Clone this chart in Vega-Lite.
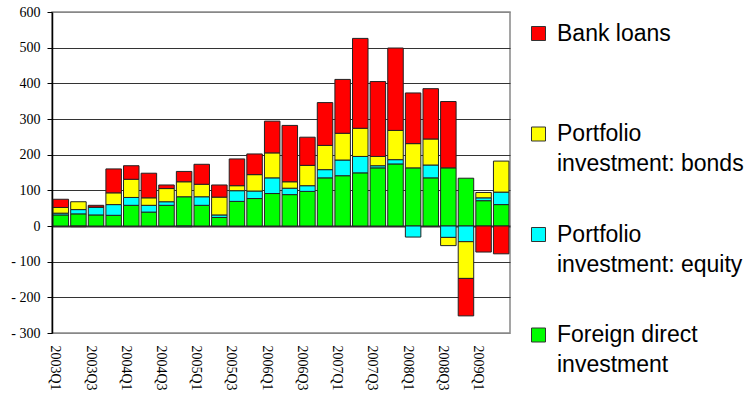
{
  "$schema": "https://vega.github.io/schema/vega-lite/v6.json",
  "width": 458,
  "height": 321,
  "autosize": {"type": "none"},
  "padding": {"left": 52, "top": 12, "right": 236, "bottom": 65},
  "background": "white",
  "config": {
    "view": {"stroke": "#888888", "strokeWidth": 1.5},
    "style": {"guide-label": {"lineHeight": 30}}
  },
  "data": {
    "values": [
      {"q": "2003Q1", "s": "Foreign direct investment", "v": 31}, {"q": "2003Q1", "s": "Portfolio investment: equity", "v": 5}, {"q": "2003Q1", "s": "Portfolio investment: bonds", "v": 16}, {"q": "2003Q1", "s": "Bank loans", "v": 23},
      {"q": "2003Q2", "s": "Foreign direct investment", "v": 34}, {"q": "2003Q2", "s": "Portfolio investment: equity", "v": 12}, {"q": "2003Q2", "s": "Portfolio investment: bonds", "v": 22}, {"q": "2003Q2", "s": "Bank loans", "v": -2},
      {"q": "2003Q3", "s": "Foreign direct investment", "v": 31}, {"q": "2003Q3", "s": "Portfolio investment: equity", "v": 22}, {"q": "2003Q3", "s": "Portfolio investment: bonds", "v": 0}, {"q": "2003Q3", "s": "Bank loans", "v": 5},
      {"q": "2003Q4", "s": "Foreign direct investment", "v": 30}, {"q": "2003Q4", "s": "Portfolio investment: equity", "v": 30}, {"q": "2003Q4", "s": "Portfolio investment: bonds", "v": 33}, {"q": "2003Q4", "s": "Bank loans", "v": 67},
      {"q": "2004Q1", "s": "Foreign direct investment", "v": 58}, {"q": "2004Q1", "s": "Portfolio investment: equity", "v": 22}, {"q": "2004Q1", "s": "Portfolio investment: bonds", "v": 51}, {"q": "2004Q1", "s": "Bank loans", "v": 38},
      {"q": "2004Q2", "s": "Foreign direct investment", "v": 39}, {"q": "2004Q2", "s": "Portfolio investment: equity", "v": 19}, {"q": "2004Q2", "s": "Portfolio investment: bonds", "v": 21}, {"q": "2004Q2", "s": "Bank loans", "v": 69},
      {"q": "2004Q3", "s": "Foreign direct investment", "v": 58}, {"q": "2004Q3", "s": "Portfolio investment: equity", "v": 10}, {"q": "2004Q3", "s": "Portfolio investment: bonds", "v": 37}, {"q": "2004Q3", "s": "Bank loans", "v": 10},
      {"q": "2004Q4", "s": "Foreign direct investment", "v": 82}, {"q": "2004Q4", "s": "Portfolio investment: equity", "v": -2}, {"q": "2004Q4", "s": "Portfolio investment: bonds", "v": 42}, {"q": "2004Q4", "s": "Bank loans", "v": 29},
      {"q": "2005Q1", "s": "Foreign direct investment", "v": 58}, {"q": "2005Q1", "s": "Portfolio investment: equity", "v": 24}, {"q": "2005Q1", "s": "Portfolio investment: bonds", "v": 35}, {"q": "2005Q1", "s": "Bank loans", "v": 56},
      {"q": "2005Q2", "s": "Foreign direct investment", "v": 24}, {"q": "2005Q2", "s": "Portfolio investment: equity", "v": 7}, {"q": "2005Q2", "s": "Portfolio investment: bonds", "v": 50}, {"q": "2005Q2", "s": "Bank loans", "v": 34},
      {"q": "2005Q3", "s": "Foreign direct investment", "v": 69}, {"q": "2005Q3", "s": "Portfolio investment: equity", "v": 30}, {"q": "2005Q3", "s": "Portfolio investment: bonds", "v": 14}, {"q": "2005Q3", "s": "Bank loans", "v": 75},
      {"q": "2005Q4", "s": "Foreign direct investment", "v": 77}, {"q": "2005Q4", "s": "Portfolio investment: equity", "v": 21}, {"q": "2005Q4", "s": "Portfolio investment: bonds", "v": 46}, {"q": "2005Q4", "s": "Bank loans", "v": 58},
      {"q": "2006Q1", "s": "Foreign direct investment", "v": 91}, {"q": "2006Q1", "s": "Portfolio investment: equity", "v": 44}, {"q": "2006Q1", "s": "Portfolio investment: bonds", "v": 70}, {"q": "2006Q1", "s": "Bank loans", "v": 89},
      {"q": "2006Q2", "s": "Foreign direct investment", "v": 88}, {"q": "2006Q2", "s": "Portfolio investment: equity", "v": 18}, {"q": "2006Q2", "s": "Portfolio investment: bonds", "v": 18}, {"q": "2006Q2", "s": "Bank loans", "v": 158},
      {"q": "2006Q3", "s": "Foreign direct investment", "v": 97}, {"q": "2006Q3", "s": "Portfolio investment: equity", "v": 16}, {"q": "2006Q3", "s": "Portfolio investment: bonds", "v": 57}, {"q": "2006Q3", "s": "Bank loans", "v": 79},
      {"q": "2006Q4", "s": "Foreign direct investment", "v": 135}, {"q": "2006Q4", "s": "Portfolio investment: equity", "v": 23}, {"q": "2006Q4", "s": "Portfolio investment: bonds", "v": 68}, {"q": "2006Q4", "s": "Bank loans", "v": 120},
      {"q": "2007Q1", "s": "Foreign direct investment", "v": 141}, {"q": "2007Q1", "s": "Portfolio investment: equity", "v": 44}, {"q": "2007Q1", "s": "Portfolio investment: bonds", "v": 75}, {"q": "2007Q1", "s": "Bank loans", "v": 151},
      {"q": "2007Q2", "s": "Foreign direct investment", "v": 149}, {"q": "2007Q2", "s": "Portfolio investment: equity", "v": 46}, {"q": "2007Q2", "s": "Portfolio investment: bonds", "v": 79}, {"q": "2007Q2", "s": "Bank loans", "v": 252},
      {"q": "2007Q3", "s": "Foreign direct investment", "v": 163}, {"q": "2007Q3", "s": "Portfolio investment: equity", "v": 6}, {"q": "2007Q3", "s": "Portfolio investment: bonds", "v": 26}, {"q": "2007Q3", "s": "Bank loans", "v": 210},
      {"q": "2007Q4", "s": "Foreign direct investment", "v": 174}, {"q": "2007Q4", "s": "Portfolio investment: equity", "v": 12}, {"q": "2007Q4", "s": "Portfolio investment: bonds", "v": 82}, {"q": "2007Q4", "s": "Bank loans", "v": 231},
      {"q": "2008Q1", "s": "Foreign direct investment", "v": 163}, {"q": "2008Q1", "s": "Portfolio investment: equity", "v": -31}, {"q": "2008Q1", "s": "Portfolio investment: bonds", "v": 68}, {"q": "2008Q1", "s": "Bank loans", "v": 142},
      {"q": "2008Q2", "s": "Foreign direct investment", "v": 135}, {"q": "2008Q2", "s": "Portfolio investment: equity", "v": 36}, {"q": "2008Q2", "s": "Portfolio investment: bonds", "v": 73}, {"q": "2008Q2", "s": "Bank loans", "v": 141},
      {"q": "2008Q3", "s": "Foreign direct investment", "v": 163}, {"q": "2008Q3", "s": "Portfolio investment: equity", "v": -32}, {"q": "2008Q3", "s": "Portfolio investment: bonds", "v": -23}, {"q": "2008Q3", "s": "Bank loans", "v": 186},
      {"q": "2008Q4", "s": "Foreign direct investment", "v": 134}, {"q": "2008Q4", "s": "Portfolio investment: equity", "v": -44}, {"q": "2008Q4", "s": "Portfolio investment: bonds", "v": -103}, {"q": "2008Q4", "s": "Bank loans", "v": -105},
      {"q": "2009Q1", "s": "Foreign direct investment", "v": 71}, {"q": "2009Q1", "s": "Portfolio investment: equity", "v": 8}, {"q": "2009Q1", "s": "Portfolio investment: bonds", "v": 15}, {"q": "2009Q1", "s": "Bank loans", "v": -73},
      {"q": "2009Q2", "s": "Foreign direct investment", "v": 60}, {"q": "2009Q2", "s": "Portfolio investment: equity", "v": 35}, {"q": "2009Q2", "s": "Portfolio investment: bonds", "v": 87}, {"q": "2009Q2", "s": "Bank loans", "v": -78}
    ]
  },
  "transform": [
    {"calculate": "indexof(['Foreign direct investment','Portfolio investment: equity','Portfolio investment: bonds','Bank loans'], datum.s)", "as": "ord"}
  ],
  "mark": {"type": "bar", "stroke": "#222222", "strokeWidth": 1},
  "encoding": {
    "x": {
      "field": "q", "type": "ordinal",
      "scale": {"paddingInner": 0.12, "paddingOuter": 0.06},
      "axis": {
        "title": null,
        "values": ["2003Q1","2003Q3","2004Q1","2004Q3","2005Q1","2005Q3","2006Q1","2006Q3","2007Q1","2007Q3","2008Q1","2008Q3","2009Q1"],
        "labelAngle": 90,
        "labelAlign": "left",
        "labelBaseline": "middle",
        "labelFont": "Liberation Serif, Times New Roman, serif",
        "labelFontSize": 14,
        "labelColor": "#000000",
        "labelPadding": 12,
        "labelOffset": -5.5,
        "ticks": false,
        "domain": false
      }
    },
    "y": {
      "field": "v", "type": "quantitative", "stack": "zero",
      "scale": {"domain": [-300, 600], "nice": false},
      "axis": {
        "title": null,
        "values": [-300,-200,-100,0,100,200,300,400,500,600],
        "labelExpr": "datum.value < 0 ? '- ' + (-datum.value) : datum.label",
        "labelFont": "Liberation Serif, Times New Roman, serif",
        "labelFontSize": 14,
        "labelColor": "#000000",
        "labelPadding": 7,
        "tickSize": 5,
        "tickColor": "#000000",
        "domainColor": "#000000",
        "domainWidth": 1.5,
        "gridColor": {"condition": {"test": "datum.value == 600 || datum.value == -300", "value": "#888888"}, "value": "#333333"},
        "gridWidth": {"condition": {"test": "datum.value == 0", "value": 2}, "value": 1.2}
      }
    },
    "color": {
      "field": "s", "type": "nominal",
      "scale": {
        "domain": ["Bank loans", "Portfolio investment: bonds", "Portfolio investment: equity", "Foreign direct investment"],
        "range": ["#FF0000", "#FFFF00", "#00FFFF", "#00FF00"]
      },
      "legend": {
        "title": null,
        "orient": "none",
        "legendX": 475,
        "legendY": 10,
        "symbolType": "square",
        "symbolSize": 196,
        "symbolStrokeColor": "#333333",
        "symbolStrokeWidth": 1,
        "labelFont": "Liberation Sans",
        "labelFontSize": 23,
        "labelColor": "#000000",
        "labelOffset": 7,
        "labelLimit": 300,
        "rowPadding": 46.5,
        "labelExpr": "datum.label == 'Bank loans' ? ['Bank loans', ''] : datum.label == 'Foreign direct investment' ? ['Foreign direct', 'investment'] : datum.label == 'Portfolio investment: bonds' ? ['Portfolio', 'investment: bonds'] : ['Portfolio', 'investment: equity']"
      }
    },
    "order": {"field": "ord", "type": "quantitative"}
  }
}
